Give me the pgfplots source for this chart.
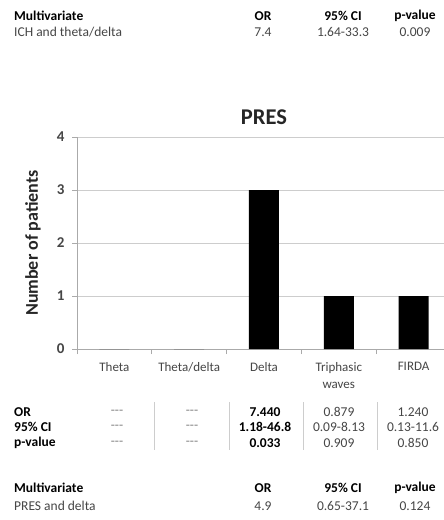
\documentclass[border=0pt]{standalone}
\usepackage{pgfplots}
\pgfplotsset{compat=1.18}
\usepackage{fontspec}
\setmainfont{Carlito}
\definecolor{txt}{RGB}{70,70,70}
\definecolor{gridc}{RGB}{205,205,205}
\definecolor{axc}{RGB}{170,170,170}
\newcommand{\tf}{\fontsize{13.5}{15}\selectfont}
\begin{document}
\begin{tikzpicture}[x=1pt,y=1pt]
\path[use as bounding box, clip] (0pt,0pt) rectangle (444pt,-520pt);
\fill[white] (0pt,0pt) rectangle (444pt,-520pt);
% top table
\begin{scope}[every node/.style={font=\tf, inner sep=0pt}]
\node[anchor=west, font=\tf\bfseries] at (14pt,-16pt) {Multivariate};
\node[font=\tf\bfseries] at (263pt,-16pt) {OR};
\node[font=\tf\bfseries] at (343pt,-16pt) {95\% CI};
\node[font=\tf\bfseries] at (415pt,-16pt) {p-value};
\node[anchor=west, text=txt] at (14pt,-32pt) {ICH and theta/delta};
\node[text=txt] at (263pt,-32pt) {7.4};
\node[text=txt] at (343pt,-32pt) {1.64-33.3};
\node[text=txt] at (415pt,-32pt) {0.009};
\end{scope}
\begin{axis}[
  at={(77pt,-349pt)}, anchor=south west,
  scale only axis, width=374pt, height=212pt,
  xmin=-0.5, xmax=4.5, ymin=0, ymax=4,
  ytick={0,1,2,3,4},
  ymajorgrids, grid style={gridc, line width=1pt},
  axis lines*=left,
  axis line style={axc, line width=0.8pt},
  xtick={0,1,2,3,4},
  xticklabels={Theta, Theta/delta, Delta, {Triphasic\\waves}, FIRDA},
  xticklabel style={align=center, text=txt, font=\fontsize{13}{17}\selectfont, yshift=-5pt},
  major x tick style={draw=none},
  minor xtick={-0.5,0.5,1.5,2.5,3.5},
  minor x tick style={axc, line width=0.8pt},
  minor tick length=5pt,
  ytick style={axc, line width=0.8pt},
  major tick length=5pt,
  tick align=outside,
  yticklabel style={font=\fontsize{15}{16}\selectfont\bfseries, text=txt, xshift=-4pt},
  /pgf/number format/assume math mode=true,
  ylabel={Number of patients},
  ylabel style={font=\fontsize{18}{20}\selectfont\bfseries, text=black!85,
    at={(axis description cs:-0.118,0.5)}, anchor=center},
  title={PRES},
  title style={font=\fontsize{22.5}{24}\selectfont\bfseries, text=black!85, yshift=3pt},
]
\addplot[ybar, bar width=30pt, fill=black, draw=none] coordinates {(0,0) (1,0) (2,3) (3,1) (4,1)};
\end{axis}
% bottom table
\foreach \x in {154,229,303,377} \draw[gridc, line width=1pt] (\x pt,-402pt) -- (\x pt,-450pt);
\begin{scope}[every node/.style={font=\tf, inner sep=0pt, text=txt}]
\node[anchor=west, text=black, font=\tf\bfseries] at (14pt,-412pt) {OR};
\node[anchor=west, text=black, font=\tf\bfseries] at (14pt,-427pt) {95\% CI};
\node[anchor=west, text=black, font=\tf\bfseries] at (14pt,-443pt) {p-value};
\foreach \y in {-412,-427,-443} {
  \node[text=gray] at (117pt,\y pt) {-{}-{}-};
  \node[text=gray] at (192pt,\y pt) {-{}-{}-};
}
\node[text=black, font=\tf\bfseries] at (265pt,-412pt) {7.440};
\node[text=black, font=\tf\bfseries] at (265pt,-427pt) {1.18-46.8};
\node[text=black, font=\tf\bfseries] at (265pt,-443pt) {0.033};
\node at (339pt,-412pt) {0.879};
\node at (339pt,-427pt) {0.09-8.13};
\node at (339pt,-443pt) {0.909};
\node at (413pt,-412pt) {1.240};
\node at (413pt,-427pt) {0.13-11.6};
\node at (413pt,-443pt) {0.850};
\node[anchor=west, text=black, font=\tf\bfseries] at (14pt,-488pt) {Multivariate};
\node[text=black, font=\tf\bfseries] at (263pt,-488pt) {OR};
\node[text=black, font=\tf\bfseries] at (343pt,-488pt) {95\% CI};
\node[text=black, font=\tf\bfseries] at (415pt,-488pt) {p-value};
\node[anchor=west] at (14pt,-506pt) {PRES and delta};
\node at (263pt,-506pt) {4.9};
\node at (343pt,-506pt) {0.65-37.1};
\node at (415pt,-506pt) {0.124};
\end{scope}
\end{tikzpicture}
\end{document}
